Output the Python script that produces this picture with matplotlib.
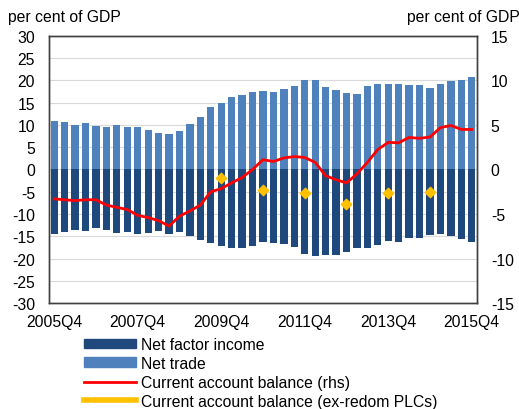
import numpy as np
import matplotlib.pyplot as plt
from matplotlib.patches import Patch
from matplotlib.lines import Line2D

plt.rcParams['font.family'] = ['Liberation Sans', 'DejaVu Sans']
plt.rcParams['font.size'] = 11.3
plt.rcParams['axes.unicode_minus'] = False

# quarters 2005Q4 .. 2015Q4
quarters = [f"{y}Q{q}" for y in range(2005, 2016) for q in range(1, 5)][3:44]
tick_labels = ["2005Q4", "2007Q4", "2009Q4", "2011Q4", "2013Q4", "2015Q4"]

net_trade = [11.0, 10.7, 10.05, 10.35, 9.8, 9.6, 10.0, 9.45, 9.45, 8.8,
             8.25, 7.95, 8.55, 10.2, 11.9, 14.0, 15.0, 16.2, 16.8, 17.4,
             17.55, 17.4, 18.15, 18.75, 20.2, 20.1, 18.45, 17.9, 17.2, 17.0,
             18.7, 19.2, 19.3, 19.1, 19.0, 19.0, 18.3, 19.3, 19.9, 20.0,
             20.8]
net_factor = [-14.5, -14.1, -13.5, -13.8, -13.2, -13.6, -14.25, -13.95, -14.6, -14.2,
              -13.9, -14.4, -14.0, -14.85, -15.8, -16.6, -17.25, -17.6, -17.6, -17.25,
              -16.35, -16.5, -16.8, -17.5, -19.0, -19.35, -19.2, -19.1, -18.6, -17.6,
              -17.7, -16.9, -16.1, -16.2, -15.45, -15.4, -14.7, -14.6, -15.0, -15.6,
              -16.35]
ca_balance = [-3.3, -3.4, -3.5, -3.4, -3.4, -4.0, -4.25, -4.5, -5.15, -5.4,
              -5.75, -6.35, -5.25, -4.65, -4.0, -2.5, -2.15, -1.5, -0.9, 0.0,
              1.1, 0.9, 1.3, 1.45, 1.35, 0.8, -0.7, -1.15, -1.5, -0.5,
              0.8, 2.25, 3.05, 3.0, 3.6, 3.5, 3.65, 4.7, 4.95, 4.5,
              4.5]
exredom_q = ["2009Q4", "2010Q4", "2011Q4", "2012Q4", "2013Q4", "2014Q4"]
exredom = [-0.95, -2.25, -2.65, -3.9, -2.6, -2.5]

dark_blue = "#1F497D"
light_blue = "#4F81BD"
red = "#FF0000"
yellow = "#FFC000"

x = np.arange(len(quarters))
x_ex = [quarters.index(q) for q in exredom_q]

fig = plt.figure(figsize=(5.19, 4.10), dpi=100)
ax = fig.add_axes([0.0944, 0.2585, 0.8246, 0.6513])
ax2 = ax.twinx()

for y in range(-30, 31, 5):
    ax.axhline(y, color="#D9D9D9", linewidth=0.8, zorder=0)
ax.bar(x, net_trade, width=0.7, color=light_blue, zorder=2)
ax.bar(x, net_factor, width=0.7, color=dark_blue, zorder=2)

ax2.plot(x, ca_balance, color=red, linewidth=2, zorder=3)
ax2.scatter(x_ex, exredom, marker="D", s=28, color=yellow, zorder=4)

ax.set_xlim(-0.5, 40.5)
ax.set_ylim(-30, 30)
ax2.set_ylim(-15, 15)
ax.set_yticks(range(-30, 31, 5))
ax2.set_yticks(range(-15, 16, 5))
ax.set_xticks([quarters.index(t) for t in tick_labels])
ax.set_xticklabels(tick_labels)

ax.tick_params(axis="y", length=0, pad=10)
ax.tick_params(axis="x", length=0, pad=8)
ax2.tick_params(length=0, pad=10)
for a in (ax, ax2):
    for s in a.spines.values():
        s.set_color("#404040")
        s.set_linewidth(1)

fig.text(0.015, 0.958, "per cent of GDP", ha="left", va="center")
fig.text(0.784, 0.958, "per cent of GDP", ha="left", va="center")

handles = [Patch(color=dark_blue), Patch(color=light_blue),
           Line2D([], [], color=red, linewidth=2),
           Line2D([], [], color=yellow, linewidth=4)]
labels = ["Net factor income", "Net trade", "Current account balance (rhs)",
          "Current account balance (ex-redom PLCs)"]
fig.legend(handles, labels, loc="upper left", bbox_to_anchor=(0.162, 0.176),
           frameon=False, handlelength=3.3, handleheight=0.55, handletextpad=0.35,
           labelspacing=0.25, borderaxespad=0, borderpad=0)

fig.savefig("out.png", dpi=100)
